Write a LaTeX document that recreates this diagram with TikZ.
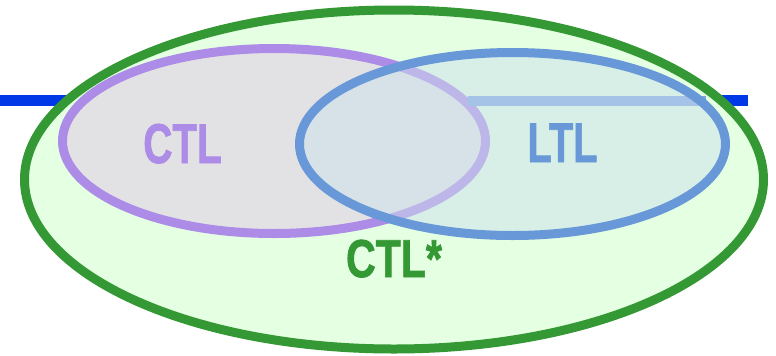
\documentclass[tikz,border=0pt]{standalone}
\usepackage{fontspec}
\setmainfont{Liberation Sans}
\newfontfamily\heavyfont[FakeBold=1.6]{Liberation Sans Bold}
\usetikzlibrary{shapes.geometric}
\definecolor{lineblue}{RGB}{0,55,230}
\definecolor{starborder}{RGB}{52,152,52}
\definecolor{starfill}{RGB}{228,255,226}
\definecolor{ctlborder}{RGB}{172,140,230}
\definecolor{ctlfill}{RGB}{226,226,228}
\definecolor{ltlborder}{RGB}{104,152,216}
\definecolor{ltlfill}{RGB}{204,225,236}
\definecolor{barblue}{RGB}{126,165,226}
\tikzset{
  setshape/.style={ellipse, inner sep=0pt, outer sep=0pt},
  labeltext/.style={font=\heavyfont\fontsize{42}{42}\selectfont, inner sep=0pt, anchor=base},
}
\begin{document}
\begin{tikzpicture}[x=0.75pt,y=-0.75pt]
\useasboundingbox (0,0) rectangle (776,355);
% horizontal blue line behind everything
\coordinate (bl) at (0,100.5);
\coordinate (br) at (748,100.5);
\draw[lineblue, line width=8.25pt] (bl) -- (br);
% CTL* ellipse
\node[setshape, draw=starborder, fill=starfill, line width=6.75pt,
      minimum width=554.25pt, minimum height=254.25pt] (star) at (394,179.5) {};
% CTL ellipse
\node[setshape, draw=ctlborder, fill=ctlfill, line width=6.75pt,
      minimum width=317.25pt, minimum height=138.75pt] (ctl) at (274,141) {};
% faded part of the blue line inside LTL
\coordinate (ba) at (468,100.5);
\coordinate (bb) at (706,100.5);
\draw[barblue, line width=7.5pt] (ba) -- (bb);
% LTL ellipse
\node[setshape, draw=ltlborder, fill=ltlfill, fill opacity=0.5, draw opacity=1, line width=6.75pt,
      minimum width=319.5pt, minimum height=137.25pt] (ltl) at (512.5,144) {};
% labels
\node[labeltext, text=ctlborder] (ctltext) at (182.5,163) {\scalebox{0.72}[1]{CTL}};
\node[labeltext, text=ltlborder] (ltltext) at (562.5,162) {\scalebox{0.71}[1]{LTL}};
\node[labeltext, text=starborder, font=\heavyfont\fontsize{40}{40}\selectfont] (startext) at (394,277) {\scalebox{0.77}[1]{CTL*}};
\end{tikzpicture}
\end{document}
